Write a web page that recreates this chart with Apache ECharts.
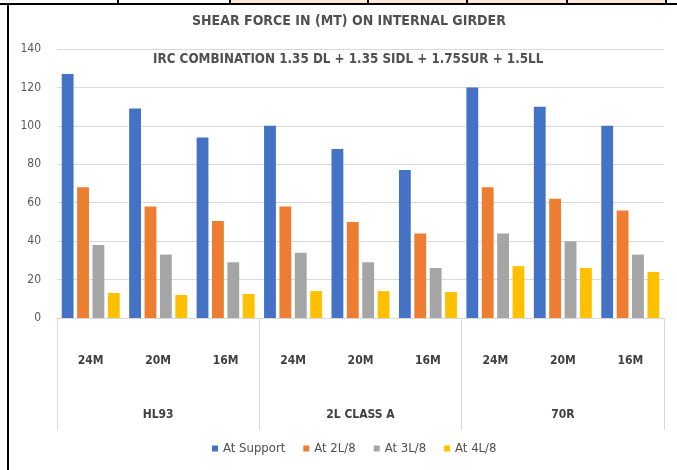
<!DOCTYPE html>
<html lang="en">
<head>
    <meta charset="UTF-8">
    <title>Shear force</title>
    <script src="https://cdn.jsdelivr.net/npm/echarts@6/dist/echarts.min.js"></script>
</head>
<body style="margin:0;">

<div id="wrap" style="width: 677px; height: 470px;"></div>

<script>
    var spans = ["24M", "20M", "16M", "24M", "20M", "16M", "24M", "20M", "16M"];
    var groups = ["HL93", "2L CLASS A", "70R"];
    var atSupport = [127, 109, 94, 100, 88, 77, 120, 110, 100];
    var at2L8 = [68, 58, 50.5, 58, 50, 44, 68, 62, 56];
    var at3L8 = [38, 33, 29, 34, 29, 26, 44, 40, 33];
    var at4L8 = [13, 12, 12.5, 14, 14, 13.5, 27, 26, 24];
    var yTicks = [0, 20, 40, 60, 80, 100, 120, 140];

    var font = '"Liberation Sans Narrow", "DejaVu Sans Condensed", sans-serif';

    var myChart = echarts.init(document.getElementById("wrap"));

    function bar(name, data, color) {
        return {
            name: name,
            type: "bar",
            data: data,
            barGap: "30%",
            barCategoryGap: "14%",
            itemStyle: {color: color}
        };
    }

    var option = {
        backgroundColor: "#fff",
        animation: false,
        textStyle: {fontFamily: font},
        title: [{
            text: "SHEAR FORCE IN (MT) ON INTERNAL GIRDER",
            left: 187,
            top: 9,
            textStyle: {fontFamily: font, fontSize: 14, fontWeight: "bold", color: "#505050"}
        }, {
            text: "IRC COMBINATION 1.35 DL + 1.35 SIDL + 1.75SUR + 1.5LL",
            left: 148,
            top: 48,
            textStyle: {fontFamily: font, fontSize: 13.3, fontWeight: "bold", color: "#505050"}
        }],
        legend: {
            bottom: 10,
            left: 207,
            itemWidth: 6,
            itemHeight: 6,
            itemGap: 18,
            icon: "rect",
            textStyle: {fontFamily: font, fontSize: 13, color: "#505050"},
            data: ["At Support", "At 2L/8", "At 3L/8", "At 4L/8"]
        },
        grid: {left: 57, right: 13, top: 49, bottom: 152},
        xAxis: [{
            type: "category",
            data: spans,
            axisLine: {lineStyle: {color: "#d9d9d9"}},
            axisTick: {show: false},
            axisLabel: {margin: 37, fontFamily: font, fontSize: 12, fontWeight: "bold", color: "#404040"}
        }, {
            type: "category",
            data: groups,
            position: "bottom",
            axisLine: {show: false},
            axisTick: {show: true, length: 112, lineStyle: {color: "#d9d9d9"}},
            axisLabel: {margin: 91, fontFamily: font, fontSize: 12, fontWeight: "bold", color: "#404040"}
        }],
        yAxis: {
            type: "value",
            min: yTicks[0],
            max: yTicks[yTicks.length - 1],
            interval: 20,
            axisLine: {show: false},
            axisTick: {show: false},
            splitLine: {lineStyle: {color: "#d9d9d9"}},
            axisLabel: {margin: 16, fontFamily: font, fontSize: 12, color: "#595959"}
        },
        series: [
            bar("At Support", atSupport, "#4472C4"),
            bar("At 2L/8", at2L8, "#ED7D31"),
            bar("At 3L/8", at3L8, "#A5A5A5"),
            bar("At 4L/8", at4L8, "#FFC000")
        ],
        graphic: [
            // bits of the spreadsheet around the chart
            {type: "rect", shape: {x: 230, y: 0, width: 436, height: 4}, style: {fill: "#fce9dc"}},
            {type: "line", shape: {x1: 0, y1: 4, x2: 677, y2: 4}, style: {stroke: "#000", lineWidth: 2}},
            {type: "line", shape: {x1: 8, y1: 4, x2: 8, y2: 470}, style: {stroke: "#000", lineWidth: 2}},
            {type: "line", shape: {x1: 118, y1: 0, x2: 118, y2: 4}, style: {stroke: "#000", lineWidth: 2}},
            {type: "line", shape: {x1: 230, y1: 0, x2: 230, y2: 4}, style: {stroke: "#000", lineWidth: 2}},
            {type: "line", shape: {x1: 368, y1: 0, x2: 368, y2: 4}, style: {stroke: "#000", lineWidth: 2}},
            {type: "line", shape: {x1: 467, y1: 0, x2: 467, y2: 4}, style: {stroke: "#000", lineWidth: 2}},
            {type: "line", shape: {x1: 567, y1: 0, x2: 567, y2: 4}, style: {stroke: "#000", lineWidth: 2}},
            {type: "line", shape: {x1: 666, y1: 0, x2: 666, y2: 4}, style: {stroke: "#000", lineWidth: 2}}
        ]
    };

    myChart.setOption(option);
</script>
</body>
</html>
